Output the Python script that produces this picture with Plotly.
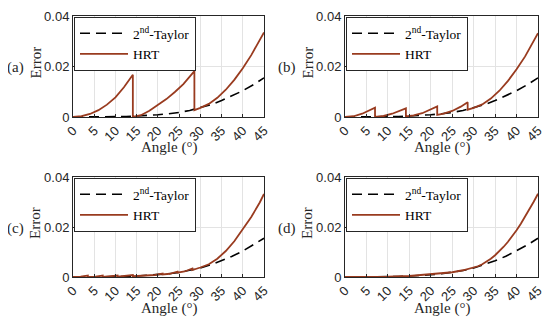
import plotly.graph_objects as go

# ---------------- data ----------------
taylor_angle = [0, 2.5, 5, 7.5, 10, 12.5, 15, 17.5, 20, 22.5, 25, 27.5, 30,
                32.5, 35, 37.5, 40, 42.5, 45]
taylor_err = [0, 0, 0, 0.0001, 0.0001, 0.0002, 0.0004, 0.0006, 0.0009, 0.0013,
              0.0018, 0.0026, 0.0036, 0.0049, 0.0065, 0.0083, 0.0104, 0.0128, 0.0155]

# panel (a): HRT, 3 segments (duplicated angle = jump)
hrt_a_angle = [0, 2, 4, 6, 8, 10, 12, 14.1, 14.1, 16, 18, 20, 22, 24, 26, 28.6,
               28.6, 30, 32, 34, 36, 38, 40, 42, 44, 45]
hrt_a_err = [0, 0.0003, 0.0012, 0.0027, 0.0049, 0.0078, 0.0118, 0.0167, 0.0, 0.0007,
             0.0025, 0.0047, 0.0071, 0.0099, 0.0130, 0.0182,
             0.0027, 0.0036, 0.0052, 0.0076, 0.0108, 0.0147, 0.0193, 0.0245, 0.0303, 0.0335]

# panel (b): HRT, 5 segments
hrt_b_angle = [0, 2, 4, 5.5, 7.0, 7.0, 9, 11, 13, 14.2, 14.2, 16, 18, 20, 21.5,
               21.5, 23, 25, 27, 28.6, 28.6, 30, 32, 34, 36, 38, 40, 42, 44, 45]
hrt_b_err = [0, 0.0003, 0.0013, 0.0025, 0.0037, 0.0, 0.0004, 0.0013, 0.0025, 0.0034,
             0.0002, 0.0006, 0.0015, 0.0030, 0.0042, 0.0008, 0.0013, 0.0024, 0.0041, 0.0058,
             0.0029, 0.0036, 0.0050, 0.0073, 0.0104, 0.0143, 0.0189, 0.0240, 0.0298, 0.0332]

# panel (c): HRT, 9 segments
hrt_c_angle = [0, 1.8, 3.5, 3.5, 5.3, 7.0, 7.0, 8.8, 10.5, 10.5, 12.3, 14.1, 14.1,
               15.8, 17.6, 17.6, 19.3, 21.1, 21.1, 22.8, 24.6, 24.6, 26.3, 28.1,
               28.1, 30, 32, 34, 36, 38, 40, 42, 44, 45]
hrt_c_err = [0, 0.0001, 0.0006, 0.0, 0.0001, 0.0006, 0.0, 0.0002, 0.0006, 0.0001,
             0.0003, 0.0008, 0.0003, 0.0005, 0.0009, 0.0006, 0.0008, 0.0014, 0.0010,
             0.0013, 0.0021, 0.0017, 0.0022, 0.0034, 0.0028, 0.0038, 0.0051, 0.0073,
             0.0104, 0.0143, 0.0189, 0.0240, 0.0298, 0.0332]

# panel (d): HRT, smooth
hrt_d_angle = [0, 5, 10, 15, 20, 22.5, 25, 27.5, 30, 31, 32, 33, 34, 35, 36, 37,
               38, 39, 40, 41, 42, 43, 44, 45]
hrt_d_err = [0, 0, 0.0001, 0.0004, 0.0010, 0.0014, 0.0019, 0.0027, 0.0037, 0.0043,
             0.0051, 0.0061, 0.0073, 0.0087, 0.0103, 0.0121, 0.0141, 0.0163, 0.0187,
             0.0213, 0.0241, 0.0270, 0.0301, 0.0333]

panel_labels = ["(a)", "(b)", "(c)", "(d)"]
x_ticks = [0, 5, 10, 15, 20, 25, 30, 35, 40, 45]
y_ticks = [0, 0.02, 0.04]
y_tick_text = ["0", "0.02", "0.04"]
taylor_name = "2<sup>nd</sup>-Taylor"
hrt_name = "HRT"
x_title = "Angle (°)"
y_title = "Error"

# ---------------- layout ----------------
# the page body has an 8px default margin, so the figure is drawn at (8, 8)
OFF = 8
W, H = 550 - OFF, 324 - OFF
HRT_COLOR = "#993b1f"
AX_COLOR = "#262626"
SERIF = "Liberation Serif"
SANS = "Liberation Sans"


def px(xp):
    return (xp - OFF) / W


def py(yp):
    return 1 - (yp - OFF) / H


# page-pixel boxes of the four axes: (left, right, top, bottom)
boxes = [(73, 264, 16, 117), (345, 538, 16, 117),
         (73, 264, 177, 277), (345, 538, 177, 277)]
hrt_sets = [(hrt_a_angle, hrt_a_err), (hrt_b_angle, hrt_b_err),
            (hrt_c_angle, hrt_c_err), (hrt_d_angle, hrt_d_err)]

fig = go.Figure()
layout = dict(width=W, height=H, margin=dict(l=0, r=0, t=0, b=0, autoexpand=False),
              paper_bgcolor="white", plot_bgcolor="white", showlegend=True,
              annotations=[])

for i, ((l, r, t, b), (ha, he)) in enumerate(zip(boxes, hrt_sets)):
    n = "" if i == 0 else str(i + 1)
    xa, ya = "x" + n, "y" + n
    leg = "legend" + n
    fig.add_trace(go.Scatter(x=taylor_angle, y=taylor_err, mode="lines",
                             name=taylor_name, xaxis=xa, yaxis=ya, legend=leg,
                             line=dict(color="black", width=1.6, dash="10px,6px")))
    fig.add_trace(go.Scatter(x=ha, y=he, mode="lines", name=hrt_name,
                             xaxis=xa, yaxis=ya, legend=leg,
                             line=dict(color=HRT_COLOR, width=1.8)))
    common = dict(showline=True, linecolor=AX_COLOR, linewidth=1, mirror=True,
                  ticks="inside", ticklen=3, tickcolor=AX_COLOR, automargin=False,
                  showgrid=True, gridcolor="#e3e3e3", gridwidth=1, zeroline=False)
    layout["xaxis" + n] = dict(domain=[px(l), px(r)], range=[0, 45],
                               tickvals=x_ticks, tickangle=-45,
                               tickfont=dict(family=SANS, size=13, color=AX_COLOR),
                               anchor=ya, **common)
    layout["yaxis" + n] = dict(domain=[py(b), py(t)], range=[0, 0.04],
                               tickvals=y_ticks, ticktext=y_tick_text,
                               tickfont=dict(family=SANS, size=13, color=AX_COLOR),
                               anchor=xa, **common)
    layout[leg] = dict(x=px(l + 1), y=py(t + 1), xanchor="left", yanchor="top",
                       bgcolor="white", bordercolor=AX_COLOR, borderwidth=1,
                       font=dict(family=SERIF, size=13.5, color="black"),
                       itemwidth=48, tracegroupgap=0)
    cx = (l + r) / 2
    cy = (t + b) / 2
    layout["annotations"] += [
        dict(text=x_title, x=px(cx), y=py(b + 31), xref="paper", yref="paper",
             showarrow=False, xanchor="center", yanchor="middle",
             font=dict(family=SERIF, size=15, color=AX_COLOR)),
        dict(text=y_title, x=px(l - 38), y=py(cy - 4), xref="paper", yref="paper",
             showarrow=False, xanchor="center", yanchor="middle", textangle=-90,
             font=dict(family=SERIF, size=15, color=AX_COLOR)),
        dict(text=panel_labels[i], x=px(l - 58), y=py(cy + 1), xref="paper",
             yref="paper", showarrow=False, xanchor="center", yanchor="middle",
             font=dict(family=SERIF, size=15, color=AX_COLOR)),
    ]

fig.update_layout(**layout)
fig.write_html("out.html")
